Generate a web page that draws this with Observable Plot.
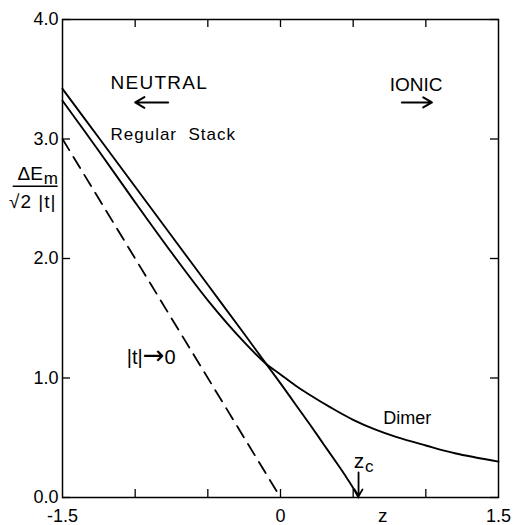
<!DOCTYPE html>
<html>
<head>
<meta charset="utf-8">
<script src="https://cdn.jsdelivr.net/npm/d3@7"></script>
<script src="https://cdn.jsdelivr.net/npm/@observablehq/plot@0.6"></script>
<style>
  body { margin: 0; background: #fff; }
  #chart svg { display: block; }
</style>
</head>
<body>
<div id="chart"></div>
<script>
// Regular stack curve (z, ΔEm/√2|t|)
const stackZ = [-1.5, -1.25, -1.0, -0.75, -0.5, -0.25, -0.1, 0.0, 0.1, 0.2, 0.3, 0.4, 0.45, 0.5, 0.537];
const stackE = [3.42, 3.01, 2.60, 2.19, 1.78, 1.37, 1.12, 0.955, 0.785, 0.615, 0.44, 0.265, 0.175, 0.08, 0.0];
// Dimer curve
const dimerZ = [-1.5, -1.25, -1.0, -0.75, -0.5, -0.25, -0.1, 0.0, 0.1, 0.2, 0.35, 0.5, 0.65, 0.8, 1.0, 1.2, 1.5];
const dimerE = [3.32, 2.90, 2.47, 2.05, 1.65, 1.30, 1.12, 1.03, 0.94, 0.86, 0.75, 0.65, 0.57, 0.505, 0.435, 0.37, 0.30];
// |t| -> 0 limit (dashed)
const limitZ = [-1.5, 0];
const limitE = [3.0, 0.0];
// axes
const xTickLabels = [-1.5, 0, 1.5];
const xTickMarks = [-1.0, -0.5, 0, 0.5, 1.0];
const yTickValues = [0, 1, 2, 3, 4];

const toRows = (zs, es) => zs.map((z, i) => ({z, e: es[i]}));
const stack = toRows(stackZ, stackE);
const dimer = toRows(dimerZ, dimerE);
const limit = toRows(limitZ, limitE);
const zc = stackZ[stackZ.length - 1];

const W = 514, H = 525;
const mL = 62, mR = 16, mT = 19, mB = 28;
const frameW = W - mL - mR, frameH = H - mT - mB;
const tickLen = 8;
const font = "'Liberation Sans', Arial, Helvetica, sans-serif";

const txt = (x, y, s, size, anchor = "middle") =>
  Plot.text([s], {x: () => x, y: () => y, text: d => d, fontSize: size, textAnchor: anchor, lineAnchor: "middle", fill: "black"});

const chart = Plot.plot({
  width: W, height: H,
  marginLeft: mL, marginRight: mR, marginTop: mT, marginBottom: mB,
  x: {domain: [-1.5, 1.5]},
  y: {domain: [0, 4]},
  style: {fontFamily: font, background: "white", color: "black"},
  marks: [
    Plot.tickX(xTickMarks, {x: d => d, insetTop: frameH - tickLen, stroke: "black", strokeWidth: 1.3}),
    Plot.tickX(xTickMarks, {x: d => d, insetBottom: frameH - tickLen, stroke: "black", strokeWidth: 1.3}),
    Plot.tickY(yTickValues, {y: d => d, insetRight: frameW - tickLen, stroke: "black", strokeWidth: 1.3}),
    Plot.tickY(yTickValues, {y: d => d, insetLeft: frameW - tickLen, stroke: "black", strokeWidth: 1.3}),
    Plot.axisX({ticks: xTickLabels, tickSize: 0, tickPadding: 12, fontSize: 18, label: null,
      tickFormat: d => d === 0 ? "0" : (d < 0 ? "-" + Math.abs(d) : String(d))}),
    Plot.axisY({ticks: yTickValues, tickSize: 0, tickPadding: 4, fontSize: 18, label: null,
      tickFormat: d => d.toFixed(1)}),
    Plot.line(limit, {x: "z", y: "e", stroke: "black", strokeWidth: 1.8, strokeDasharray: "13,8"}),
    Plot.line(stack, {x: "z", y: "e", stroke: "black", strokeWidth: 1.9, curve: "catmull-rom"}),
    Plot.line(dimer, {x: "z", y: "e", stroke: "black", strokeWidth: 1.9, curve: "catmull-rom"}),
    Plot.frame({stroke: "black", strokeWidth: 1.5}),
    // labels
    txt(-0.834, 3.47, "NEUTRAL", 19),
    txt(0.933, 3.45, "IONIC", 19),
    txt(-0.738, 3.04, "Regular  Stack", 17),
    txt(0.872, 0.66, "Dimer", 18),
    txt(-0.89, 1.17, "|t|→0", 20),
    txt(0.54, 0.30, "z", 21),
    txt(0.61, 0.26, "c", 17),
    txt(0.703, -0.15, "z", 19),
    // y-axis label as a fraction
    txt(-1.722, 2.71, "ΔE", 19),
    txt(-1.581, 2.67, "m", 17),
    txt(-1.705, 2.475, "√2 |t|", 19),
    Plot.ruleY([2.605], {x1: -1.839, x2: -1.530, stroke: "black", strokeWidth: 1.6}),
    // arrows
    Plot.arrow([{x1: -0.773, x2: -1.0, y: 3.306}], {x1: "x1", x2: "x2", y1: "y", y2: "y", stroke: "black", strokeWidth: 2, headLength: 8}),
    Plot.arrow([{x1: 0.835, x2: 1.042, y: 3.306}], {x1: "x1", x2: "x2", y1: "y", y2: "y", stroke: "black", strokeWidth: 2, headLength: 8}),
    Plot.arrow([{x: zc, y1: 0.21, y2: 0.01}], {x1: "x", x2: "x", y1: "y1", y2: "y2", stroke: "black", strokeWidth: 1.8, headLength: 7})
  ]
});

// letter-spacing tweaks for hand-lettered labels
d3.select(chart).selectAll("text").each(function() {
  const t = this.textContent;
  if (t === "NEUTRAL") this.setAttribute("letter-spacing", "1.3");
  if (t === "Regular  Stack") this.setAttribute("letter-spacing", "1");
  if (t === "√2 |t|") this.setAttribute("letter-spacing", "1");
  if (t === "|t|→0") {
    const sel = d3.select(this);
    sel.text(null);
    sel.append("tspan").text("|t|");
    sel.append("tspan").attr("font-family", "'DejaVu Sans', sans-serif").attr("font-size", 26).text("→");
    sel.append("tspan").text("0");
  }
});

document.getElementById("chart").appendChild(chart);
</script>
</body>
</html>
